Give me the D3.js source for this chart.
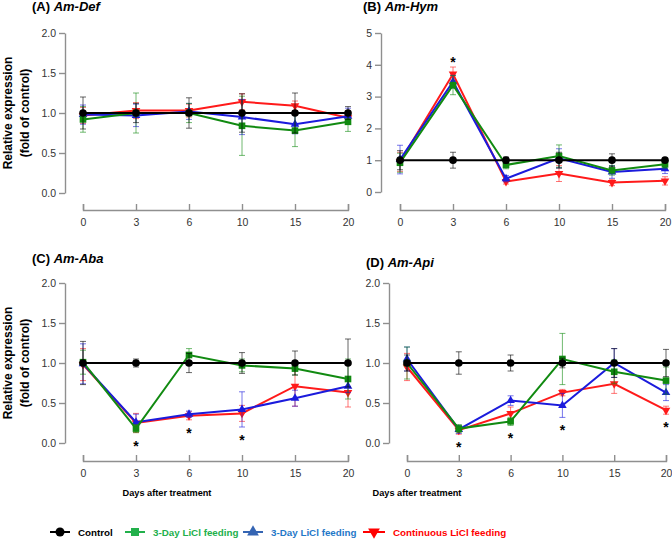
<!DOCTYPE html>
<html lang="en">
<head>
<meta charset="utf-8">
<script src="https://cdn.jsdelivr.net/npm/d3@7/dist/d3.min.js"></script>
<style>
  body { margin: 0; background: #fff; }
  svg text { font-family: "Liberation Sans", Arial, sans-serif; }
  .axis path, .axis line { stroke: #8f8f8f; stroke-width: 1.4; }
  .axis text { fill: #333; font-size: 10.5px; }
</style>
</head>
<body>
<script>
// days after treatment (categorical, equally spaced)
const days = [0, 3, 6, 10, 15, 20];
const seriesNames = ["Control", "3-Day LiCl feeding", "3-Day LiCl feeding", "Continuous LiCl feeding"];

// (A) Am-Def
const defCtrl = [1, 1, 1, 1, 1, 1];
const defCtrlErr = [0.2, 0.12, 0.19, 0.24, 0.25, 0.08];
const defGreen = [0.92, 1.0, 1.0, 0.84, 0.78, 0.89];
const defGreenErr = [0.16, 0.25, 0.12, 0.37, 0.2, 0.12];
const defBlue = [0.98, 0.97, 1.02, 0.95, 0.86, 0.96];
const defBlueErr = [0.12, 0.14, 0.1, 0.22, 0.12, 0.1];
const defRed = [0.97, 1.03, 1.03, 1.14, 1.09, 0.94];
const defRedErr = [0.1, 0.1, 0.08, 0.1, 0.06, 0.06];
const defStars = [];

// (B) Am-Hym
const hymCtrl = [1, 1, 1, 1, 1, 1];
const hymCtrlErr = [0.3, 0.25, 0.1, 0.25, 0.2, 0.06];
const hymGreen = [0.92, 3.36, 0.85, 1.13, 0.68, 0.87];
const hymGreenErr = [0.3, 0.3, 0.12, 0.35, 0.15, 0.12];
const hymBlue = [1.02, 3.47, 0.42, 1.06, 0.63, 0.73];
const hymBlueErr = [0.45, 0.2, 0.1, 0.3, 0.2, 0.15];
const hymRed = [0.95, 3.71, 0.33, 0.58, 0.3, 0.35];
const hymRedErr = [0.3, 0.22, 0.08, 0.25, 0.1, 0.13];
const hymStars = [3];

// (C) Am-Aba
const abaCtrl = [1, 1, 1, 1, 1, 1];
const abaCtrlErr = [0.27, 0.05, 0.12, 0.13, 0.15, 0.3];
const abaGreen = [1.01, 0.18, 1.1, 0.97, 0.93, 0.8];
const abaGreenErr = [0.15, 0.05, 0.08, 0.08, 0.08, 0.25];
const abaBlue = [0.99, 0.26, 0.36, 0.42, 0.56, 0.71];
const abaBlueErr = [0.25, 0.1, 0.04, 0.22, 0.1, 0.08];
const abaRed = [0.98, 0.25, 0.34, 0.37, 0.71, 0.63];
const abaRedErr = [0.2, 0.12, 0.05, 0.1, 0.25, 0.18];
const abaStars = [3, 6, 10];

// (D) Am-Api
const apiCtrl = [1, 1, 1, 1, 1, 1];
const apiCtrlErr = [0.1, 0.14, 0.1, 0.06, 0.18, 0.17];
const apiGreen = [1.0, 0.18, 0.27, 1.05, 0.89, 0.78];
const apiGreenErr = [0.2, 0.05, 0.05, 0.32, 0.15, 0.17];
const apiBlue = [1.05, 0.17, 0.53, 0.47, 1.0, 0.63];
const apiBlueErr = [0.15, 0.05, 0.06, 0.15, 0.18, 0.1];
const apiRed = [0.95, 0.16, 0.37, 0.63, 0.74, 0.41];
const apiRedErr = [0.17, 0.05, 0.08, 0.04, 0.12, 0.05];
const apiStars = [3, 6, 10, 20];

const yTicksSmall = [0, 0.5, 1, 1.5, 2];
const yTicksHym = [0, 1, 2, 3, 4, 5];

// styles
const lineColors = ["#000000", "#118a11", "#1b1bdc", "#ff1a1a"];
const legendLineColors = ["#000000", "#22b04b", "#3565b3", "#ff0000"];
const legendTextColors = ["#000000", "#21b04b", "#1f78c8", "#ff0000"];
const symbols = [d3.symbolCircle, d3.symbolSquare, d3.symbolTriangle, d3.symbolTriangle];
const rotations = [0, 0, 0, 180];
const markerSizes = [46, 44, 32, 32];

const panels = [
  { tag: "(A) ", gene: "Am-Def", data: [[defCtrl, defCtrlErr], [defGreen, defGreenErr], [defBlue, defBlueErr], [defRed, defRedErr]],
    stars: defStars, below: true, yMax: 2, ticks: yTicksSmall, fmt: ".1f",
    xr: [83, 348], yr: [193, 33], ax: 65, xa: 210, tx: 32, ty: 11, ylab: true, xlab: false },
  { tag: "(B) ", gene: "Am-Hym", data: [[hymCtrl, hymCtrlErr], [hymGreen, hymGreenErr], [hymBlue, hymBlueErr], [hymRed, hymRedErr]],
    stars: hymStars, below: false, yMax: 5, ticks: yTicksHym, fmt: "d",
    xr: [400, 665], yr: [192, 33], ax: 381, xa: 210, tx: 363, ty: 11, ylab: false, xlab: false },
  { tag: "(C) ", gene: "Am-Aba", data: [[abaCtrl, abaCtrlErr], [abaGreen, abaGreenErr], [abaBlue, abaBlueErr], [abaRed, abaRedErr]],
    stars: abaStars, below: true, yMax: 2, ticks: yTicksSmall, fmt: ".1f",
    xr: [83, 348], yr: [443, 283], ax: 65, xa: 461, tx: 32, ty: 263, ylab: true, xlab: 167 },
  { tag: "(D) ", gene: "Am-Api", data: [[apiCtrl, apiCtrlErr], [apiGreen, apiGreenErr], [apiBlue, apiBlueErr], [apiRed, apiRedErr]],
    stars: apiStars, below: true, yMax: 2, ticks: yTicksSmall, fmt: ".1f",
    xr: [407, 666], yr: [443, 283], ax: 389, xa: 461, tx: 366, ty: 267, ylab: false, xlab: 417 }
];

const svg = d3.select("body").append("svg")
  .attr("width", 672)
  .attr("height", 539);

const markerPath = (i, size) => d3.symbol().type(symbols[i]).size(size)();

panels.forEach(p => {
  const x = d3.scalePoint().domain(days).range(p.xr);
  const y = d3.scaleLinear().domain([0, p.yMax]).range(p.yr);
  const g = svg.append("g");

  // axes
  g.append("g").attr("class", "axis")
    .attr("transform", `translate(${p.ax},0)`)
    .call(d3.axisLeft(y).tickValues(p.ticks).tickFormat(d3.format(p.fmt))
      .tickSize(6).tickSizeOuter(0).tickPadding(3));

  g.append("g").attr("class", "axis")
    .attr("transform", `translate(0,${p.xa})`)
    .call(d3.axisBottom(x).tickSize(-6).tickPadding(9));

  // title
  const t = g.append("text").attr("x", p.tx).attr("y", p.ty)
    .style("font-size", "13px").style("font-weight", "bold");
  t.append("tspan").text(p.tag);
  t.append("tspan").style("font-style", "italic").text(p.gene);

  if (p.ylab) {
    const yl = g.append("text")
      .attr("transform", `translate(0,${(p.yr[0] + p.yr[1]) / 2}) rotate(-90)`)
      .attr("text-anchor", "middle")
      .style("font-size", "12px").style("font-weight", "bold");
    yl.append("tspan").attr("x", 0).attr("y", 12).text("Relative expression");
    yl.append("tspan").attr("x", 0).attr("y", 29).text("(fold of control)");
  }
  if (p.xlab) {
    g.append("text").attr("x", p.xlab).attr("y", 496)
      .attr("text-anchor", "middle")
      .style("font-size", "9.2px").style("font-weight", "bold")
      .text("Days after treatment");
  }

  // series: red, blue, green, control on top
  [3, 2, 1, 0].forEach(i => {
    const vals = p.data[i][0], errs = p.data[i][1];
    const pts = days.map((d, k) => ({ d: d, v: vals[k], e: errs[k] }));
    const s = g.append("g");
    const eb = s.selectAll(".eb").data(pts).enter().append("g")
      .attr("stroke", lineColors[i]).attr("stroke-opacity", 0.6).attr("stroke-width", 1);
    eb.append("line")
      .attr("x1", d => x(d.d)).attr("x2", d => x(d.d))
      .attr("y1", d => y(d.v - d.e)).attr("y2", d => y(d.v + d.e));
    eb.append("line")
      .attr("x1", d => x(d.d) - 3).attr("x2", d => x(d.d) + 3)
      .attr("y1", d => y(d.v - d.e)).attr("y2", d => y(d.v - d.e));
    eb.append("line")
      .attr("x1", d => x(d.d) - 3).attr("x2", d => x(d.d) + 3)
      .attr("y1", d => y(d.v + d.e)).attr("y2", d => y(d.v + d.e));

    s.append("path").datum(pts)
      .attr("fill", "none").attr("stroke", lineColors[i]).attr("stroke-width", 2)
      .attr("d", d3.line().x(d => x(d.d)).y(d => y(d.v)));

    s.selectAll(".m").data(pts).enter().append("path")
      .attr("d", markerPath(i, markerSizes[i]))
      .attr("fill", lineColors[i])
      .attr("transform", d => `translate(${x(d.d)},${y(d.v)}) rotate(${rotations[i]})`);
  });

  // significance stars
  g.selectAll(".star").data(p.stars).enter().append("text")
    .attr("x", d => x(d))
    .attr("y", d => {
      const k = days.indexOf(d);
      if (p.below) {
        const lo = d3.min(p.data, s => s[0][k] - s[1][k]);
        return y(lo) + 10 + 8;
      }
      const hi = d3.max(p.data, s => s[0][k] + s[1][k]);
      return y(hi) - 8 + 8;
    })
    .attr("text-anchor", "middle")
    .style("font-size", "14px").style("font-weight", "bold")
    .text("*");
});

// legend
const legendX = [50, 125, 243, 363];
const legendY = 532;
const lg = svg.append("g");
seriesNames.forEach((name, i) => {
  const lx = legendX[i];
  const w = i === 3 ? 22 : 20;
  lg.append("line").attr("x1", lx).attr("x2", lx + w)
    .attr("y1", legendY).attr("y2", legendY)
    .attr("stroke", legendLineColors[i]).attr("stroke-width", 2);
  lg.append("path").attr("d", markerPath(i, i >= 2 ? 60 : 64))
    .attr("fill", legendLineColors[i])
    .attr("transform", `translate(${lx + w / 2},${legendY}) rotate(${rotations[i]})`);
  lg.append("text").attr("x", lx + w + 8).attr("y", legendY + 3.5)
    .attr("fill", legendTextColors[i])
    .style("font-size", "9.8px").style("font-weight", "bold")
    .text(name);
});
</script>
</body>
</html>
